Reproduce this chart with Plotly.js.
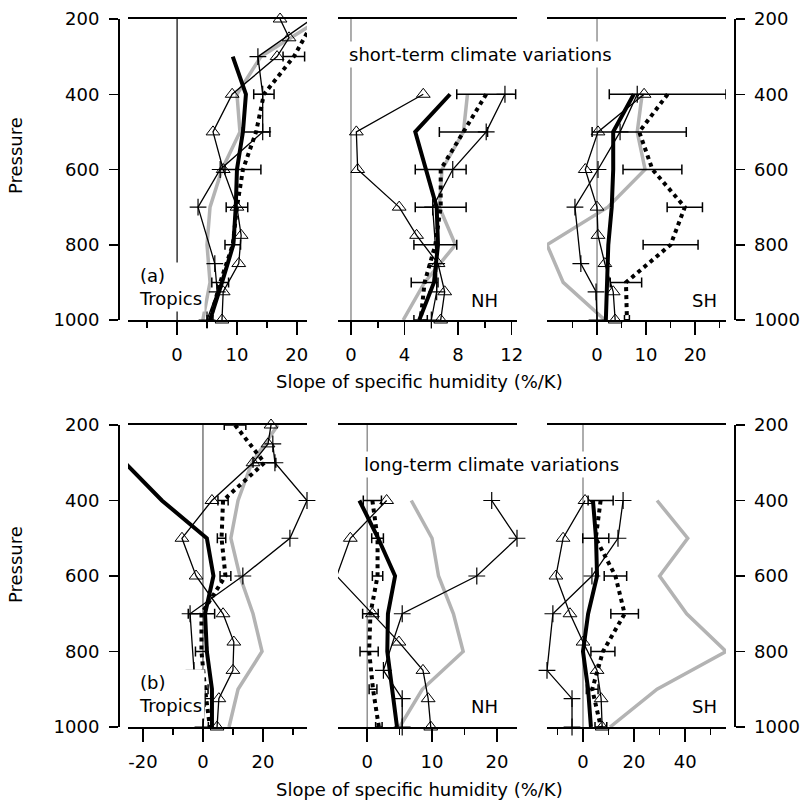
<!DOCTYPE html>
<html>
<head>
<meta charset="utf-8">
<script src="https://cdn.plot.ly/plotly-3.0.1.min.js"></script>
<style>html,body{margin:0;padding:0;background:#fff;}#chart{width:804px;height:804px;}</style>
</head>
<body>
<div id="chart"></div>
<script>
// ---------- DATA (pressure levels in hPa, slopes in %/K) ----------
// (a) short-term, Tropics
const aTrop_thick_p = [300,400,500,600,700,800,900,1000];
const aTrop_thick_v = [9.3,11.5,11,10,9.8,9.4,7.5,5.5];
const aTrop_gray_p  = [200,300,400,500,600,700,800,900,1000];
const aTrop_gray_v  = [24,14,10,10.5,7.5,5.5,5,5.5,4.3];
const aTrop_dot_p   = [200,300,400,500,600,700,800,900,1000];
const aTrop_dot_v   = [23,19.5,14.5,13.2,11,10,9.3,7.2,5.5];
const aTrop_dot_e   = [0,1.8,1.7,2.3,3,1.8,1.3,1.4,0.5];
const aTrop_tri_p   = [200,250,300,400,500,600,700,775,850,925,1000];
const aTrop_tri_v   = [17.2,18.7,16.7,9.2,6,7.7,10,10.7,10.3,7.7,7.5];
const aTrop_plus_p  = [200,300,400,500,600,700,850,925,1000];
const aTrop_plus_v  = [22.5,13.5,14.3,14.3,7.2,3.5,6.3,6.7,5];
// (a) short-term, NH
const aNH_thick_p = [400,500,600,700,800,900,1000];
const aNH_thick_v = [7.4,4.8,5.6,6.4,6.5,6.2,5.1];
const aNH_gray_p  = [400,500,600,700,800,900,1000];
const aNH_gray_v  = [8.7,8.4,6.8,6.6,7.8,5.5,3.9];
const aNH_dot_p   = [400,500,600,700,800,900,1000];
const aNH_dot_v   = [10.1,8.4,6.7,6.7,6.3,5.5,5.2];
const aNH_dot_e   = [2.2,1.8,1.9,1.9,1.6,1.0,0.5];
const aNH_tri_p   = [400,500,600,700,775,850,925,1000];
const aNH_tri_v   = [5.4,0.4,0.5,3.6,4.9,6.5,7.0,6.7];
const aNH_plus_p  = [400,500,600,700,850,925,1000];
const aNH_plus_v  = [11.5,10.1,7.6,6.1,6.4,6.4,6];
// (a) short-term, SH
const aSH_thick_p = [400,500,600,700,800,900,1000];
const aSH_thick_v = [7.5,3.3,3.3,3.0,2.3,2.0,1.8];
const aSH_gray_p  = [400,500,600,700,800,900,1000];
const aSH_gray_v  = [9.2,8.2,9.8,2.2,-10.2,-6.9,1.6];
const aSH_dot_p   = [400,500,600,700,800,900,1000];
const aSH_dot_v   = [14.4,8.6,11.3,17.9,15,5.9,6.1];
const aSH_dot_e   = [11.9,9.6,6.0,3.6,5.6,3.2,0.5];
const aSH_tri_p   = [400,500,600,700,775,850,925,1000];
const aSH_tri_v   = [9.6,0.2,-2.4,0,0.2,1.6,3.3,3.7];
const aSH_plus_p  = [400,500,600,700,850,925,1000];
const aSH_plus_v  = [8.2,4.7,0.2,-4.5,-3.3,-0.2,0];
// (b) long-term, Tropics
const bTrop_thick_p = [300,400,500,600,700,800,900,1000];
const bTrop_thick_v = [-26,-13.7,1.3,3.5,0.7,1.3,3,3];
const bTrop_gray_p  = [200,300,400,500,600,700,800,900,1000];
const bTrop_gray_v  = [25,16.3,11.7,9.3,12.3,16.7,19.7,11.7,8.7];
const bTrop_dot_p   = [200,300,400,500,600,700,800,900,1000];
const bTrop_dot_v   = [10.7,20.5,6.7,6.2,7.5,-0.5,-0.5,0.7,2.3];
const bTrop_dot_e   = [3.6,3.8,1.7,1.4,1.8,4.4,2,1,0.5];
const bTrop_tri_p   = [200,250,300,400,500,600,700,775,850,925,1000];
const bTrop_tri_v   = [22.7,21.7,16.7,3,-7,-2.3,6.7,10.3,10,5.3,4.7];
const bTrop_plus_p  = [250,300,400,500,600,700,850,925,1000];
const bTrop_plus_v  = [23.3,24,34.7,29,13.3,-4.3,-3,0.7,0];
// (b) long-term, NH
const bNH_thick_p = [400,500,600,700,800,900,1000];
const bNH_thick_v = [-1.2,1.7,4.3,3.2,3.1,3.8,4.6];
const bNH_gray_p  = [400,500,600,700,800,900,1000];
const bNH_gray_v  = [6.8,10,11,13.3,14.8,8.5,5];
const bNH_dot_p   = [400,500,600,700,800,900,1000];
const bNH_dot_v   = [0.8,1.6,1.6,0.5,0.3,0.9,1.8];
const bNH_dot_e   = [1.4,0.9,0.8,1.2,1.4,0.6,0.5];
const bNH_tri_p   = [400,500,600,700,775,850,925,1000];
const bNH_tri_v   = [3,-2.6,-4.7,0.8,4.9,8.6,9.4,9.8];
const bNH_plus_p  = [400,500,600,700,850,925,1000];
const bNH_plus_v  = [19.2,23.1,16.9,5.4,2.5,5.4,5.4];
// (b) long-term, SH
const bSH_thick_p = [400,500,600,700,800,900,1000];
const bSH_thick_v = [3.9,5.1,5.5,2,0,2,3.1];
const bSH_gray_p  = [400,500,600,700,800,900,1000];
const bSH_gray_v  = [29,41,30,40.6,56,29,10.6];
const bSH_dot_p   = [400,500,600,700,800,900,1000];
const bSH_dot_v   = [6.9,5,12.7,16.3,7.8,3.6,7];
const bSH_dot_e   = [4.9,5.1,4.4,5.4,4.7,2.3,2.3];
const bSH_tri_p   = [400,500,600,700,775,850,925,1000];
const bSH_tri_v   = [0.8,-7.8,-10.6,-5.1,0,5.5,7.1,7.5];
const bSH_plus_p  = [400,500,600,700,850,925,1000];
const bSH_plus_v  = [15.7,13.7,3.5,-11.8,-14.1,-4.3,-4.3];

// tick labels
const pressureTicks = [200,400,600,800,1000];
const aTrop_ticks = [0,10,20],   aTrop_minor = [-5,5,15];
const aNH_ticks   = [0,4,8,12],  aNH_minor   = [2,6,10];
const aSH_ticks   = [0,10,20],   aSH_minor   = [-5,5,15,25];
const bTrop_ticks = [-20,0,20],  bTrop_minor = [-10,10,30];
const bNH_ticks   = [0,10,20],   bNH_minor   = [5,15];
const bSH_ticks   = [0,20,40],   bSH_minor   = [-10,10,30,50];

// ---------- BUILD ----------
const FONT = 'DejaVu Sans';
const W = 804;
const px = x => x / W;
const py = y => 1 - y / W;

function panel(xa, ya, d) {
  const tr = [];
  tr.push({x:d.gray_v, y:d.gray_p, xaxis:xa, yaxis:ya, mode:'lines', line:{color:'#b3b3b3', width:3.5}, hoverinfo:'skip'});
  tr.push({x:d.dot_v, y:d.dot_p, xaxis:xa, yaxis:ya, mode:'lines', line:{color:'#000', width:4, dash:'dot'},
           error_x:{type:'data', array:d.dot_e, visible:true, color:'#000', thickness:1.5, width:5}, hoverinfo:'skip'});
  tr.push({x:d.thick_v, y:d.thick_p, xaxis:xa, yaxis:ya, mode:'lines', line:{color:'#000', width:4}, hoverinfo:'skip'});
  tr.push({x:d.tri_v, y:d.tri_p, xaxis:xa, yaxis:ya, mode:'lines+markers', line:{color:'#000', width:1.3},
           marker:{symbol:'triangle-up-open', size:12, color:'#000', line:{width:1, color:'#000'}}, cliponaxis:false, hoverinfo:'skip'});
  tr.push({x:d.plus_v, y:d.plus_p, xaxis:xa, yaxis:ya, mode:'lines+markers', line:{color:'#000', width:1.3},
           marker:{symbol:'cross-thin-open', size:12, color:'#000', line:{width:1.2, color:'#000'}}, cliponaxis:false, hoverinfo:'skip'});
  return tr;
}

const data = [].concat(
  panel('x','y', {thick_p:aTrop_thick_p,thick_v:aTrop_thick_v,gray_p:aTrop_gray_p,gray_v:aTrop_gray_v,dot_p:aTrop_dot_p,dot_v:aTrop_dot_v,dot_e:aTrop_dot_e,tri_p:aTrop_tri_p,tri_v:aTrop_tri_v,plus_p:aTrop_plus_p,plus_v:aTrop_plus_v}),
  panel('x2','y', {thick_p:aNH_thick_p,thick_v:aNH_thick_v,gray_p:aNH_gray_p,gray_v:aNH_gray_v,dot_p:aNH_dot_p,dot_v:aNH_dot_v,dot_e:aNH_dot_e,tri_p:aNH_tri_p,tri_v:aNH_tri_v,plus_p:aNH_plus_p,plus_v:aNH_plus_v}),
  panel('x3','y', {thick_p:aSH_thick_p,thick_v:aSH_thick_v,gray_p:aSH_gray_p,gray_v:aSH_gray_v,dot_p:aSH_dot_p,dot_v:aSH_dot_v,dot_e:aSH_dot_e,tri_p:aSH_tri_p,tri_v:aSH_tri_v,plus_p:aSH_plus_p,plus_v:aSH_plus_v}),
  panel('x4','y3', {thick_p:bTrop_thick_p,thick_v:bTrop_thick_v,gray_p:bTrop_gray_p,gray_v:bTrop_gray_v,dot_p:bTrop_dot_p,dot_v:bTrop_dot_v,dot_e:bTrop_dot_e,tri_p:bTrop_tri_p,tri_v:bTrop_tri_v,plus_p:bTrop_plus_p,plus_v:bTrop_plus_v}),
  panel('x5','y3', {thick_p:bNH_thick_p,thick_v:bNH_thick_v,gray_p:bNH_gray_p,gray_v:bNH_gray_v,dot_p:bNH_dot_p,dot_v:bNH_dot_v,dot_e:bNH_dot_e,tri_p:bNH_tri_p,tri_v:bNH_tri_v,plus_p:bNH_plus_p,plus_v:bNH_plus_v}),
  panel('x6','y3', {thick_p:bSH_thick_p,thick_v:bSH_thick_v,gray_p:bSH_gray_p,gray_v:bSH_gray_v,dot_p:bSH_dot_p,dot_v:bSH_dot_v,dot_e:bSH_dot_e,tri_p:bSH_tri_p,tri_v:bSH_tri_v,plus_p:bSH_plus_p,plus_v:bSH_plus_v})
);
// empty traces so the right-hand pressure axes are drawn
data.push({x:[], y:[], xaxis:'x3', yaxis:'y2', mode:'lines', showlegend:false, hoverinfo:'skip'});
data.push({x:[], y:[], xaxis:'x6', yaxis:'y4', mode:'lines', showlegend:false, hoverinfo:'skip'});

const tickFont = {family:FONT, size:18, color:'#000'};
const lab = v => v < 0 ? '-' + Math.abs(v) : String(v);
function xax(domain, anchor, range, ticks, minor) {
  return {domain:domain, anchor:anchor, range:range, tickmode:'array', tickvals:ticks, ticktext:ticks.map(lab),
    showline:true, linewidth:2, linecolor:'#000', mirror:true, ticks:'outside', ticklen:13, tickwidth:1.5, tickcolor:'#000',
    ticklabelstandoff:4,
    minor:{tickmode:'array', tickvals:minor, ticks:'outside', ticklen:6, tickwidth:1.5, tickcolor:'#000', showgrid:false},
    showgrid:false, zeroline:false, tickfont:tickFont, fixedrange:true};
}
function yax(domain, side, pos, overlay) {
  const a = {domain:domain, anchor:'free', position:pos, side:side, range:[1000,200], tickmode:'array', tickvals:pressureTicks,
    showline:true, linewidth:1.5, linecolor:'#000', ticks:'outside', ticklen:9, tickwidth:1.5, tickcolor:'#000',
    ticklabelstandoff:6,
    showgrid:false, zeroline:false, tickfont:tickFont, fixedrange:true};
  if (overlay) a.overlaying = overlay;
  return a;
}
const topD = [py(320), py(19)];
const botD = [py(727), py(425)];
const c1 = [px(128), px(307)], c2 = [px(338), px(517)], c3 = [px(547), px(726)];

function zline(xref, yref, color) {
  return {type:'line', xref:xref, yref:yref, x0:0, x1:0, y0:200, y1:1000, line:{color:color, width:1.2}, layer:'below'};
}
function ann(text, xpix, ypix, opts) {
  return Object.assign({text:text, x:px(xpix), y:py(ypix), xref:'paper', yref:'paper', showarrow:false,
    xanchor:'left', yanchor:'middle', align:'left', bgcolor:'#ffffff', borderpad:2,
    font:{family:FONT, size:18, color:'#000'}}, opts || {});
}
const plain = {xanchor:'center', bgcolor:'rgba(0,0,0,0)', borderpad:0};

const layout = {
  width:804, height:804, margin:{l:0, r:0, t:0, b:0}, paper_bgcolor:'#fff', plot_bgcolor:'rgba(0,0,0,0)',
  showlegend:false, font:{family:FONT, size:18, color:'#000'},
  xaxis:  xax(c1, 'y',  [-8.2, 21.7], aTrop_ticks, aTrop_minor),
  xaxis2: xax(c2, 'y',  [-0.97, 12.4], aNH_ticks, aNH_minor),
  xaxis3: xax(c3, 'y',  [-10.2, 26.3], aSH_ticks, aSH_minor),
  xaxis4: xax(c1, 'y3', [-25, 34.7], bTrop_ticks, bTrop_minor),
  xaxis5: xax(c2, 'y3', [-4.5, 23.1], bNH_ticks, bNH_minor),
  xaxis6: xax(c3, 'y3', [-14.1, 56], bSH_ticks, bSH_minor),
  yaxis:  yax(topD, 'left',  px(118), null),
  yaxis2: yax(topD, 'right', px(734), 'y'),
  yaxis3: yax(botD, 'left',  px(118), null),
  yaxis4: yax(botD, 'right', px(734), 'y3'),
  shapes: [
    zline('x','y','#000'), zline('x2','y','#777'), zline('x3','y','#777'),
    zline('x4','y3','#555'), zline('x5','y3','#777'), zline('x6','y3','#777')
  ],
  annotations: [
    ann('(a)<br>Tropics', 136, 287),
    ann('NH', 468, 300),
    ann('SH', 689, 300),
    ann('short-term climate variations', 346, 55),
    ann('(b)<br>Tropics', 136, 694),
    ann('NH', 468, 706),
    ann('SH', 689, 706),
    ann('long-term climate variations', 361, 465),
    ann('Slope of specific humidity (%/K)', 419, 381, plain),
    ann('Slope of specific humidity (%/K)', 419, 789, plain),
    ann('Pressure', 15, 156, Object.assign({}, plain, {textangle:-90})),
    ann('Pressure', 15, 565, Object.assign({}, plain, {textangle:-90}))
  ]
};

Plotly.newPlot('chart', data, layout, {staticPlot:true, displayModeBar:false});
</script>
</body>
</html>
